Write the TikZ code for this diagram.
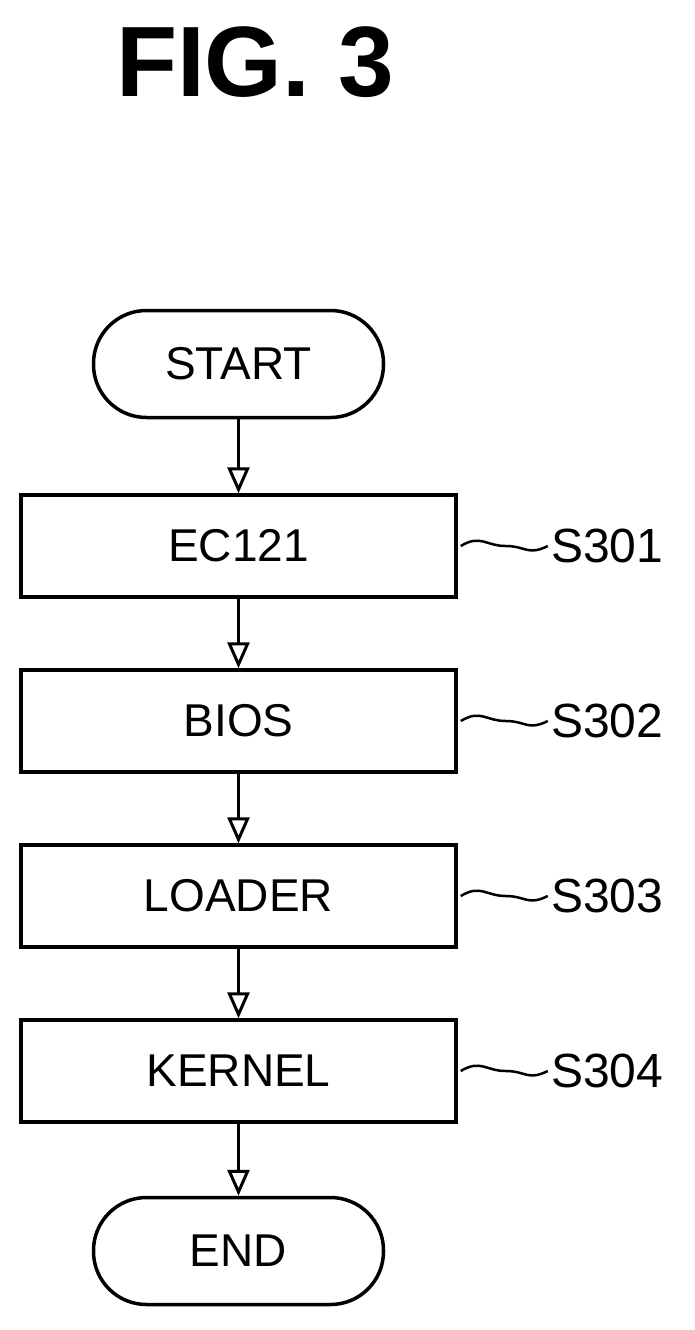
\documentclass[tikz,border=0pt]{standalone}
\usepackage{fontspec}
\setmainfont{Liberation Sans}
\usetikzlibrary{arrows.meta}
\begin{document}
\begin{tikzpicture}[x=1pt,y=-1pt,
  box/.style={draw,line width=3.5pt,minimum width=435pt,minimum height=102pt,font=\fontsize{46}{50}\selectfont},
  term/.style={draw,line width=3.5pt,rounded corners=53pt,minimum width=290pt,minimum height=107pt,font=\fontsize{46}{50}\selectfont},
  lab/.style={font=\fontsize{48}{52}\selectfont,anchor=west},
  arr/.style={line width=3.5pt,-{Triangle[open,length=26pt,width=22pt,line width=3pt]}},
  sq/.style={line width=2.5pt}]
\useasboundingbox (0,0) rectangle (694,1330);
\node[font=\fontsize{100}{110}\selectfont\bfseries] (t) at (255,62) {FIG. 3};
\node[term] (s) at (238.5,364) {START};
\node[box] (b1) at (238.5,546) {EC121};
\node[box] (b2) at (238.5,721) {BIOS};
\node[box] (b3) at (238.5,896) {LOADER};
\node[box] (b4) at (238.5,1071) {KERNEL};
\node[term] (e) at (238.5,1251) {END};
\foreach \a/\b in {s/b1,b1/b2,b2/b3,b3/b4,b4/e}{\draw[arr] (\a.south) -- (\b.north);}
\foreach \n/\t in {b1/S301,b2/S302,b3/S303,b4/S304}{
  \node[lab] (l\n) at ([xshift=90pt]\n.east) {\t};
  \draw[sq] (\n.east) ++(3,0) coordinate (c\n) .. controls +(20,-12) and +(-20,0) .. +(45,0) .. controls +(20,0) and +(-20,10) .. (l\n.west);
}
\end{tikzpicture}
\end{document}
